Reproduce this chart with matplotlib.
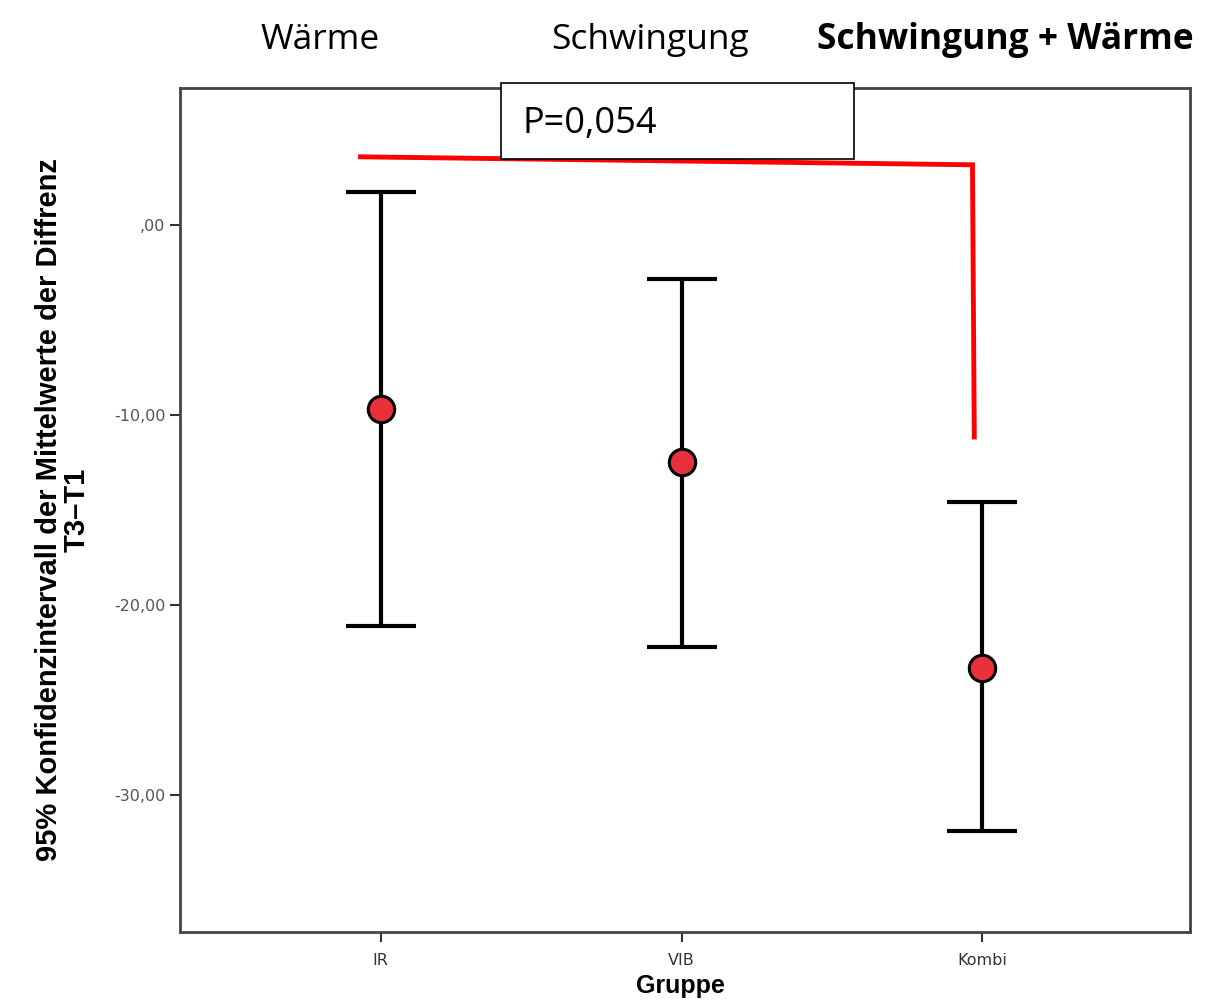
import matplotlib
matplotlib.use("Agg")
import matplotlib.pyplot as plt
from matplotlib.patches import Rectangle

groups = ["IR", "VIB", "Kombi"]
means = [-9.68, -12.5, -23.3]
upper = [1.74, -2.84, -14.6]
lower = [-21.1, -22.2, -31.9]
yticks = [0, -10, -20, -30]
ytick_labels = [",00", "-10,00", "-20,00", "-30,00"]
top_labels = ["Wärme", "Schwingung", "Schwingung + Wärme"]
p_text = "P=0,054"
bracket_x = [-0.067, 1.967, 1.973]
bracket_y = [3.58, 3.16, -11.16]

fig = plt.figure(figsize=(12.26, 10), dpi=100)
ax = fig.add_axes([180/1226, 68/1000, 1010/1226, 844/1000])

x = list(range(len(groups)))
yerr = [[m - l for m, l in zip(means, lower)], [u - m for m, u in zip(means, upper)]]
ax.errorbar(x, means, yerr=yerr, fmt="none", ecolor="black", elinewidth=3,
            capsize=25, capthick=3, zorder=2)
ax.plot(x, means, "o", color="#e8303a", markersize=19, markeredgecolor="black",
        markeredgewidth=2.2, zorder=3)

ax.set_xlim(-0.667, 2.69)
ax.set_ylim(-37.2, 7.2)
ax.set_xticks(x)
ax.set_xticklabels(groups, fontsize=11.5, color="#333333")
ax.set_yticks(yticks)
ax.set_yticklabels(ytick_labels, fontsize=11.5, color="#555555")
ax.tick_params(direction="out", length=7, width=1.5, color="#333333")
ax.tick_params(axis="x", pad=8)
for s in ax.spines.values():
    s.set_linewidth(2)
    s.set_color("#444444")

ax.set_ylabel("95% Konfidenzintervall der Mittelwerte der Diffrenz\nT3\u2013T1",
              fontsize=21, fontweight="bold", labelpad=17, linespacing=0.95,
              family=["Liberation Sans", "DejaVu Sans"])
fig.text(680/1226, 1 - 998/1000, "Gruppe", fontsize=18, fontweight="bold",
         family=["Liberation Sans", "DejaVu Sans"],
         ha="center", va="bottom")

# p-value box in figure coordinates
fig.patches.append(Rectangle((501/1226, 1 - 159/1000), 353/1226, 76/1000,
                             transform=fig.transFigure, facecolor="white",
                             edgecolor="black", linewidth=1.2, zorder=5))
fig.text(523/1226, 1 - 124/1000, p_text, fontsize=26, family="Open Sans",
         ha="left", va="center", zorder=6)

# red bracket
ax.plot(bracket_x, bracket_y, color="#ff0000", linewidth=3.5, clip_on=False,
        zorder=7, solid_joinstyle="miter")

fig.text(320/1226, 1 - 40/1000, top_labels[0], fontsize=25.5, family="Open Sans",
         ha="center", va="center")
fig.text(650/1226, 1 - 40/1000, top_labels[1], fontsize=25.5, family="Open Sans",
         ha="center", va="center")
fig.text(1005/1226, 1 - 40/1000, top_labels[2], fontsize=25.5, family="Open Sans",
         fontweight="bold", ha="center", va="center")

fig.savefig("out.png", dpi=100)
